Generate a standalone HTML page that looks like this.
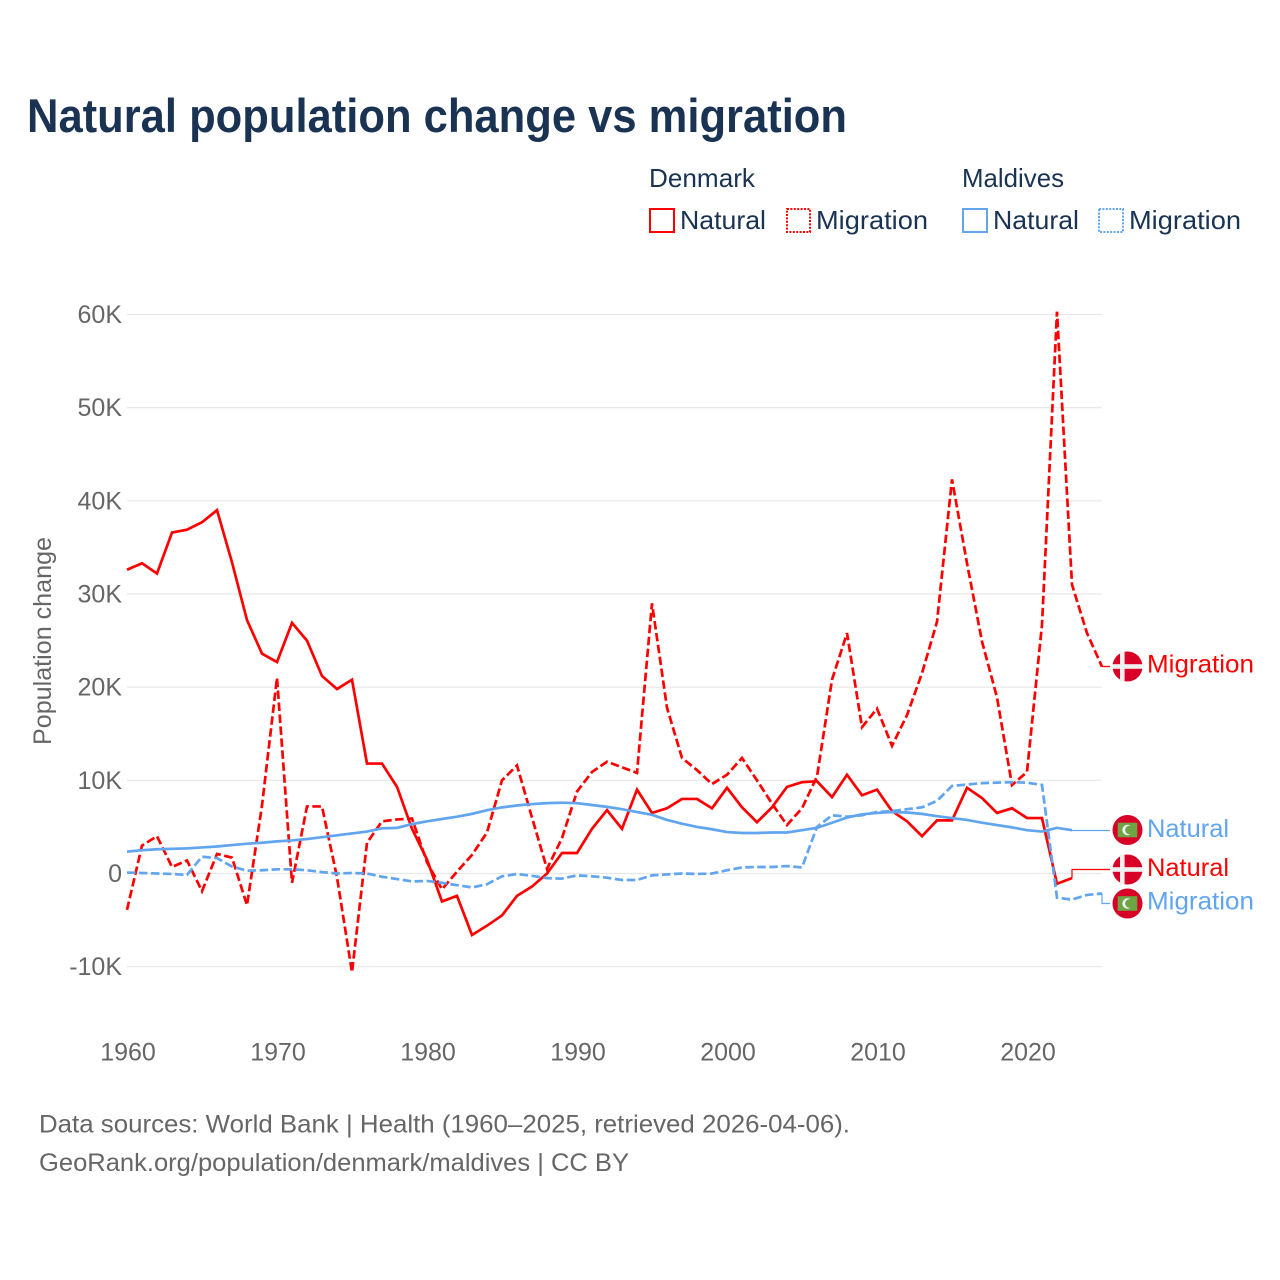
<!DOCTYPE html>
<html lang="en">
<head>
<meta charset="utf-8">
<title>Natural population change vs migration</title>
<style>
html,body{margin:0;padding:0;background:#fff;}
svg{display:block;font-family:"Liberation Sans",sans-serif;}
</style>
</head>
<body>
<svg id="chart" width="1280" height="1280" viewBox="0 0 1280 1280" xmlns="http://www.w3.org/2000/svg">
  <rect x="0" y="0" width="1280" height="1280" fill="#fff"/>
  <text x="27" y="132" font-size="47" font-weight="700" fill="#1a3352" textLength="820" lengthAdjust="spacingAndGlyphs">Natural population change vs migration</text>

  <g fill="#1a3352" font-size="26">
    <text x="649" y="187" textLength="106" lengthAdjust="spacingAndGlyphs">Denmark</text>
    <text x="962" y="187" textLength="102" lengthAdjust="spacingAndGlyphs">Maldives</text>
    <g>
      <rect x="650" y="209" width="24" height="23" fill="none" stroke="#ff0000" stroke-width="2"/>
      <text x="680" y="229" textLength="86" lengthAdjust="spacingAndGlyphs">Natural</text>
    </g>
    <g>
      <rect x="787" y="209" width="23" height="23" fill="none" stroke="#ff0000" stroke-width="2" stroke-dasharray="2 1.4"/>
      <text x="816" y="229" textLength="112" lengthAdjust="spacingAndGlyphs">Migration</text>
    </g>
    <g>
      <rect x="963" y="209" width="24" height="23" fill="none" stroke="#60a5ee" stroke-width="2"/>
      <text x="993" y="229" textLength="86" lengthAdjust="spacingAndGlyphs">Natural</text>
    </g>
    <g>
      <rect x="1099" y="209" width="24" height="23" fill="none" stroke="#60a5ee" stroke-width="2" stroke-dasharray="2 1.4"/>
      <text x="1129" y="229" textLength="112" lengthAdjust="spacingAndGlyphs">Migration</text>
    </g>
  </g>

  <text transform="translate(51,745) rotate(-90)" font-size="25" fill="#666" textLength="208" lengthAdjust="spacingAndGlyphs">Population change</text>

  <g id="grid"></g>
  <g id="yticks"></g>
  <g id="xticks"></g>
  <g id="series"></g>

  <g>
    <g>
      <circle cx="1127.5" cy="666.5" r="15" fill="#d80027"/>
      <rect x="1120" y="651.5" width="4.6" height="30" fill="#f0f0f0"/>
      <rect x="1112.5" y="664.2" width="30" height="4.6" fill="#f0f0f0"/>
      <text x="1147" y="672.7" font-size="25" fill="#ff0000" textLength="107" lengthAdjust="spacingAndGlyphs">Migration</text>
    </g>
    <g>
      <circle cx="1127.5" cy="830" r="15" fill="#d80027"/>
      <rect x="1117.7" y="822.7" width="19.6" height="14.6" fill="#6da544"/>
      <circle cx="1127.5" cy="830" r="5.2" fill="#f0f0f0"/>
      <circle cx="1129.6" cy="830" r="4.4" fill="#6da544"/>
      <text x="1147" y="837" font-size="25" fill="#60a5ee" textLength="82" lengthAdjust="spacingAndGlyphs">Natural</text>
    </g>
    <g>
      <circle cx="1127.5" cy="869.5" r="15" fill="#d80027"/>
      <rect x="1120" y="854.5" width="4.6" height="30" fill="#f0f0f0"/>
      <rect x="1112.5" y="867.2" width="30" height="4.6" fill="#f0f0f0"/>
      <text x="1147" y="876" font-size="25" fill="#ff0000" textLength="82" lengthAdjust="spacingAndGlyphs">Natural</text>
    </g>
    <g>
      <circle cx="1127.5" cy="903.5" r="15" fill="#d80027"/>
      <rect x="1117.7" y="896.2" width="19.6" height="14.6" fill="#6da544"/>
      <circle cx="1127.5" cy="903.5" r="5.2" fill="#f0f0f0"/>
      <circle cx="1129.6" cy="903.5" r="4.4" fill="#6da544"/>
      <text x="1147" y="909.3" font-size="25" fill="#60a5ee" textLength="107" lengthAdjust="spacingAndGlyphs">Migration</text>
    </g>
  </g>

  <text x="39" y="1132.5" font-size="25" fill="#666" textLength="811" lengthAdjust="spacingAndGlyphs">Data sources: World Bank | Health (1960–2025, retrieved 2026-04-06).</text>
  <text x="39" y="1171" font-size="25" fill="#666" textLength="590" lengthAdjust="spacingAndGlyphs">GeoRank.org/population/denmark/maldives | CC BY</text>
</svg>
<script>
var startYear = 1960;
var yTickValues = [-10, 0, 10, 20, 30, 40, 50, 60];
var yTickLabels = ["-10K", "0", "10K", "20K", "30K", "40K", "50K", "60K"];
var xTickYears = [1960, 1970, 1980, 1990, 2000, 2010, 2020];

// Values in thousands of people, first value = 1960, one per year
var denmarkNatural = [32.6,33.3,32.2,36.6,36.9,37.7,39.0,33.4,27.2,23.6,22.7,26.9,25.0,21.2,19.8,20.8,11.8,11.8,9.3,4.8,1.5,-3.0,-2.4,-6.6,-5.6,-4.5,-2.4,-1.4,0.0,2.2,2.2,4.8,6.8,4.8,9.0,6.5,7.0,8.0,8.0,7.0,9.2,7.1,5.5,7.1,9.3,9.8,9.9,8.2,10.6,8.4,9.0,6.7,5.6,4.0,5.7,5.7,9.2,8.1,6.5,7.0,5.95,5.95,-1.1,-0.5];
var denmarkMigration = [-3.9,3.0,4.0,0.7,1.4,-1.9,2.1,1.7,-3.4,7.3,21.0,-1.0,7.2,7.2,-0.4,-10.6,3.3,5.6,5.8,5.9,1.2,-1.7,0.2,2.0,4.4,10.0,11.6,6.0,0.5,3.8,8.8,10.9,12.0,11.4,10.8,29.0,17.8,12.4,11.1,9.6,10.6,12.4,10.0,7.5,5.2,7.0,10.4,20.8,25.8,15.7,17.7,13.7,17.0,21.5,27.0,42.3,33.3,24.9,18.9,9.5,10.9,26.7,60.3,31.0,25.8,22.2];
var maldivesNatural = [2.35,2.5,2.6,2.65,2.7,2.8,2.9,3.05,3.2,3.3,3.45,3.55,3.7,3.9,4.1,4.3,4.5,4.85,4.9,5.3,5.6,5.85,6.1,6.4,6.8,7.1,7.3,7.45,7.55,7.6,7.55,7.35,7.15,6.9,6.6,6.3,5.75,5.35,5.0,4.75,4.45,4.35,4.35,4.4,4.4,4.65,4.9,5.45,6.0,6.35,6.5,6.6,6.55,6.4,6.15,5.95,5.75,5.45,5.2,4.95,4.65,4.5,4.9,4.65];
var maldivesMigration = [0.1,0.05,0.0,-0.05,-0.15,1.8,1.65,0.75,0.3,0.35,0.45,0.45,0.35,0.15,0.0,0.05,0.0,-0.35,-0.6,-0.85,-0.8,-1.0,-1.25,-1.5,-1.15,-0.3,-0.05,-0.25,-0.5,-0.55,-0.2,-0.3,-0.45,-0.7,-0.7,-0.2,-0.1,0.0,-0.05,0.0,0.35,0.65,0.7,0.7,0.8,0.65,5.0,6.25,6.1,6.25,6.6,6.7,6.9,7.1,7.8,9.4,9.55,9.7,9.75,9.8,9.75,9.5,-2.6,-2.8,-2.3,-2.15];

var SVG_NS = "http://www.w3.org/2000/svg";
var RED = "#ff0000";
var BLUE = "#60a5ee";
var X_LEFT = 127, X_RIGHT = 1102, LEADER_END = 1110;

function xScale(year) { return 127 + (year - 1960) * 15; }
function yScale(k) { return 873.5 - k * 9.317; }

function make(tag, attrs, parent) {
  var el = document.createElementNS(SVG_NS, tag);
  for (var key in attrs) { el.setAttribute(key, attrs[key]); }
  parent.appendChild(el);
  return el;
}

var gridGroup = document.getElementById("grid");
var yTickGroup = document.getElementById("yticks");
yTickValues.forEach(function (v, i) {
  var line = make("line", {x1: X_LEFT, x2: X_RIGHT, y1: yScale(v), y2: yScale(v), stroke: "#e8e8e8", "stroke-width": 1.2}, gridGroup);
  
  
  var label = make("text", {x: 122, y: yScale(v) + 8.5, "text-anchor": "end", "font-size": 25, fill: "#666"}, yTickGroup);
  
  
  label.textContent = yTickLabels[i];
});

var xTickGroup = document.getElementById("xticks");
xTickYears.forEach(function (year) {
  var label = make("text", {x: xScale(year) + 1, y: 1060.7, "text-anchor": "middle", "font-size": 25, fill: "#666"}, xTickGroup);
  
  
  label.textContent = String(year);
});

function pathFrom(values) {
  return values.map(function (v, i) {
    return (i === 0 ? "M" : "L") + xScale(startYear + i).toFixed(1) + " " + yScale(v).toFixed(2);
  }).join(" ");
}

function drawSeries(values, color, dashed, labelY, name) {
  var seriesGroup = document.getElementById("series");
  var attrs = {d: pathFrom(values), fill: "none", stroke: color, "stroke-width": 2.7, "stroke-linejoin": "miter"};
  if (dashed) { attrs["stroke-dasharray"] = "8.5 3.5"; }
  var line = make("path", attrs, seriesGroup);
  
  
  var lastX = xScale(startYear + values.length - 1);
  var lastY = yScale(values[values.length - 1]);
  var leader = make("path", {
    d: "M" + lastX + " " + lastY.toFixed(2) + " L" + lastX + " " + labelY + " L" + LEADER_END + " " + labelY,
    fill: "none", stroke: color, "stroke-width": 1.2
  }, seriesGroup);
  
  
}

drawSeries(denmarkNatural, RED, false, 869.5, 'line-denmark-natural');
drawSeries(denmarkMigration, RED, true, 666.5, 'line-denmark-migration');
drawSeries(maldivesNatural, BLUE, false, 830.5, 'line-maldives-natural');
drawSeries(maldivesMigration, BLUE, true, 903.5, 'line-maldives-migration');
</script>
</body>
</html>
